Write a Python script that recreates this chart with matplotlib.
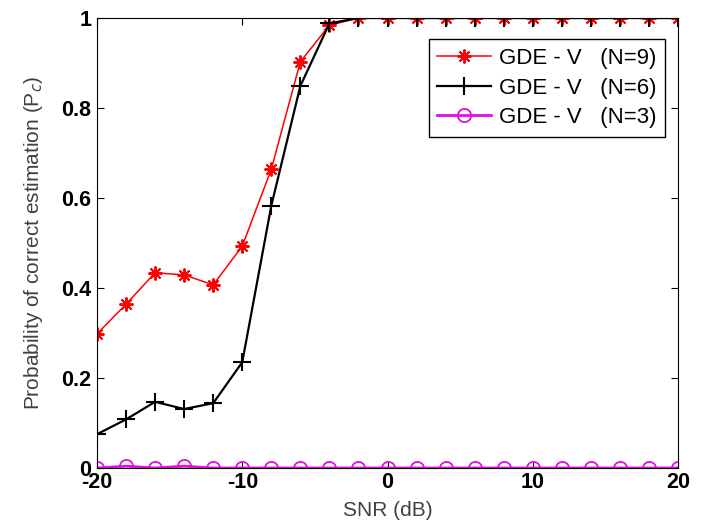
# probability of correct estimation vs SNR for GDE-V with N = 9, 6, 3
import matplotlib
matplotlib.use('Agg')
import matplotlib.pyplot as plt

snr = [-20, -18, -16, -14, -12, -10, -8, -6, -4, -2, 0,
       2, 4, 6, 8, 10, 12, 14, 16, 18, 20]
pc_n9 = [0.298, 0.364, 0.434, 0.429, 0.407, 0.493, 0.664, 0.903, 0.984, 1.0, 1.0,
         1.0, 1.0, 1.0, 1.0, 1.0, 1.0, 1.0, 1.0, 1.0, 1.0]
pc_n6 = [0.075, 0.108, 0.147, 0.131, 0.144, 0.235, 0.583, 0.849, 0.988, 1.0, 1.0,
         1.0, 1.0, 1.0, 1.0, 1.0, 1.0, 1.0, 1.0, 1.0, 1.0]
pc_n3 = [0.0, 0.004, 0.0, 0.004, 0.0, 0.0, 0.0, 0.0, 0.0, 0.0, 0.0,
         0.0, 0.0, 0.0, 0.0, 0.0, 0.0, 0.0, 0.0, 0.0, 0.0]
labels = ['GDE - V   (N=9)', 'GDE - V   (N=6)', 'GDE - V   (N=3)']

plt.rcParams['font.family'] = ['Liberation Sans', 'DejaVu Sans']
plt.rcParams['axes.unicode_minus'] = False

fig = plt.figure(figsize=(7.05, 5.27), dpi=100)
ax = fig.add_axes([0.1376, 0.112, 0.8241, 0.8538])

# matlab style asterisk = plus and cross on top of each other
ax.plot(snr, pc_n9, '-', marker=(8, 2, 0), color='red', lw=1.1, ms=10, mew=1.4,
        label=labels[0])
ax.plot(snr, pc_n6, '-+', color='black', lw=1.6, ms=13, mew=1.5, label=labels[1])
ax.plot(snr, pc_n3, '-o', color='#e010e0', lw=2.0, ms=9.5, mew=1.3,
        mfc='none', label=labels[2])

ax.set_xlim(-20, 20)
ax.set_ylim(0, 1)
ax.set_xticks([-20, -10, 0, 10, 20])
ax.set_yticks([0, 0.2, 0.4, 0.6, 0.8, 1])
ax.set_yticklabels(['0', '0.2', '0.4', '0.6', '0.8', '1'])
ax.tick_params(direction='in', top=True, right=True, length=5, labelsize=15.5)
ax.tick_params(axis='x', pad=3)
ax.tick_params(axis='y', pad=4)
for t in ax.get_xticklabels() + ax.get_yticklabels():
    t.set_fontweight('bold')

ax.set_xlabel('SNR (dB)', fontsize=15, color='#404040', labelpad=6)
ax.set_ylabel('Probability of correct estimation (P$_c$)', fontsize=15,
              color='#404040', labelpad=12)

leg = ax.legend(loc='upper right', bbox_to_anchor=(0.9776, 0.953), fontsize=16,
                fancybox=False, framealpha=1, edgecolor='black',
                handlelength=2.4, handletextpad=0.35, borderpad=0.4,
                labelspacing=0.38, borderaxespad=0)
leg.get_frame().set_linewidth(1.0)

fig.savefig('out.png', dpi=100)
